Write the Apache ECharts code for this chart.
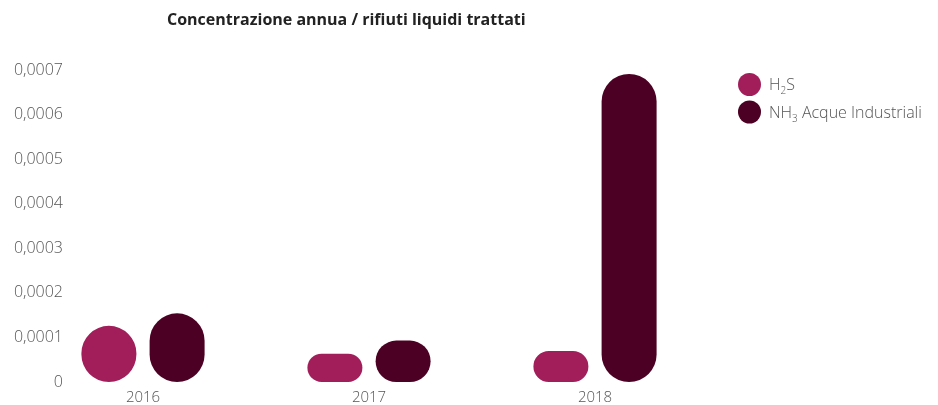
<!DOCTYPE html>
<html>
<head>
<meta charset="utf-8">
<script src="https://cdn.jsdelivr.net/npm/echarts@6/dist/echarts.min.js"></script>
<style>
  html, body { margin: 0; padding: 0; background: #fff; }
  #chart { width: 938px; height: 405px; }
</style>
</head>
<body>
<div id="chart"></div>
<script>
// Annual concentration per treated liquid waste
const years = ['2016', '2017', '2018'];
const h2sValues = [0.000126, 0.0000635, 0.0000695];
const nh3Values = [0.000154, 0.000093, 0.000691];
const seriesNames = ['H2S', 'NH3 Acque Industriali'];
const yTicks = { min: 0, max: 0.0007, interval: 0.0001 };

const LABEL_FONT = '"Open Sans", Lato, sans-serif';
const LABEL_COLOR = '#555555';

const chart = echarts.init(document.getElementById('chart'), null, { renderer: 'canvas' });

chart.setOption({
  animation: false,
  title: {
    text: 'Concentrazione annua / rifiuti liquidi trattati',
    left: 167,
    top: 12,
    padding: 0,
    textStyle: {
      fontFamily: '"Open Sans", sans-serif',
      fontWeight: 700,
      fontSize: 16,
      color: '#222222'
    }
  },
  legend: {
    orient: 'vertical',
    left: 738,
    top: 73,
    padding: 0,
    icon: 'circle',
    itemWidth: 23,
    itemHeight: 23,
    itemGap: 4,
    textStyle: {
      fontFamily: LABEL_FONT,
      fontWeight: 300,
      fontSize: 16,
      color: LABEL_COLOR,
      padding: [0, 0, 0, 3],
      rich: {
        t: { fontFamily: LABEL_FONT, fontWeight: 300, fontSize: 16, color: LABEL_COLOR, lineHeight: 18, verticalAlign: 'bottom' },
        s: { fontFamily: LABEL_FONT, fontWeight: 300, fontSize: 10, color: LABEL_COLOR, lineHeight: 12, verticalAlign: 'bottom', padding: [0, 0, -3, 0] }
      }
    },
    formatter: function (name) {
      if (name === 'H2S') return '{t|H}{s|2}{t|S}';
      return '{t|NH}{s|3}{t| Acque Industriali}';
    }
  },
  grid: {
    left: 30,
    right: 230,
    top: 70,
    bottom: 20.5,
    containLabel: false
  },
  xAxis: {
    type: 'category',
    data: years,
    axisLine: { show: false },
    axisTick: { show: false },
    axisLabel: {
      margin: 8,
      fontFamily: LABEL_FONT,
      fontWeight: 300,
      fontSize: 15,
      color: LABEL_COLOR
    }
  },
  yAxis: {
    type: 'value',
    min: yTicks.min,
    max: yTicks.max,
    interval: yTicks.interval,
    offset: -41,
    axisLine: { show: false },
    axisTick: { show: false },
    splitLine: { show: false },
    axisLabel: {
      margin: 8,
      fontFamily: LABEL_FONT,
      fontWeight: 300,
      fontSize: 16,
      color: LABEL_COLOR,
      padding: [3, 0, 0, 0],
      formatter: function (v) {
        if (v === 0) return '0';
        return v.toFixed(4).replace('.', ',');
      }
    }
  },
  series: [
    {
      name: seriesNames[0],
      type: 'bar',
      data: h2sValues,
      barWidth: 55,
      barGap: '24%',
      itemStyle: { color: '#A11E5B', borderRadius: 200 }
    },
    {
      name: seriesNames[1],
      type: 'bar',
      data: nh3Values,
      barWidth: 55,
      barGap: '24%',
      itemStyle: { color: '#4C0023', borderRadius: 200 }
    }
  ]
});
</script>
</body>
</html>
